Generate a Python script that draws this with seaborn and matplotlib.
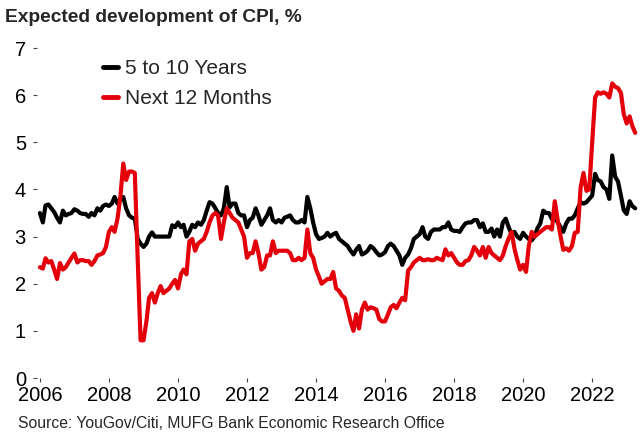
import pandas as pd
import numpy as np
import seaborn as sns
import matplotlib.pyplot as plt

# monthly survey values, Jan 2006 .. Apr 2023
start_month = '2006-01-01'
five_to_ten = [
    3.5, 3.3, 3.66, 3.68, 3.6, 3.52, 3.4, 3.3, 3.55, 3.45, 3.48, 3.5,        # 2006
    3.58, 3.55, 3.5, 3.48, 3.48, 3.42, 3.5, 3.45, 3.6, 3.55, 3.65, 3.68,     # 2007
    3.65, 3.7, 3.84, 3.7, 3.8, 3.84, 3.6, 3.45, 3.4, 3.38, 2.95, 2.85,       # 2008
    2.78, 2.85, 3.0, 3.09, 3.0, 3.0, 3.0, 3.0, 3.0, 3.0, 3.24, 3.2,          # 2009
    3.3, 3.2, 3.25, 3.0, 3.1, 3.25, 3.2, 3.3, 3.25, 3.35, 3.55, 3.73,        # 2010
    3.7, 3.6, 3.5, 3.45, 3.6, 4.05, 3.62, 3.7, 3.7, 3.5, 3.45, 3.45,         # 2011
    3.2, 3.35, 3.4, 3.6, 3.45, 3.25, 3.35, 3.45, 3.6, 3.35, 3.3, 3.35,       # 2012
    3.3, 3.4, 3.42, 3.45, 3.35, 3.3, 3.3, 3.35, 3.3, 3.84, 3.6, 3.3,         # 2013
    3.05, 2.95, 2.97, 3.0, 3.08, 3.0, 3.05, 3.08, 2.95, 2.9, 2.85, 2.8,      # 2014
    2.7, 2.62, 2.72, 2.8, 2.62, 2.65, 2.7, 2.8, 2.75, 2.67, 2.6, 2.62,       # 2015
    2.67, 2.8, 2.85, 2.8, 2.7, 2.6, 2.4, 2.55, 2.62, 2.75, 2.95, 3.0,        # 2016
    3.05, 3.2, 3.0, 2.95, 3.1, 3.15, 3.15, 3.15, 3.2, 3.2, 3.3, 3.15,        # 2017
    3.12, 3.12, 3.1, 3.2, 3.28, 3.3, 3.3, 3.35, 3.35, 3.2, 3.28, 3.1,        # 2018
    3.1, 3.17, 3.0, 3.15, 3.0, 3.3, 3.38, 3.2, 3.05, 3.1, 3.0, 2.95,         # 2019
    3.08, 3.0, 2.95, 2.92, 3.0, 3.18, 3.28, 3.55, 3.5, 3.5, 3.37, 3.4,       # 2020
    3.3, 3.2, 3.1, 3.28, 3.38, 3.38, 3.45, 3.6, 3.73, 3.7, 3.73, 3.8,        # 2021
    3.87, 4.33, 4.2, 4.17, 4.05, 4.0, 3.8, 4.72, 4.27, 4.17, 3.87, 3.56,     # 2022
    3.48, 3.75, 3.65, 3.6,                                                   # 2023
]
next_12m = [
    2.35, 2.32, 2.54, 2.45, 2.48, 2.3, 2.1, 2.44, 2.3, 2.35, 2.45, 2.55,     # 2006
    2.64, 2.45, 2.5, 2.5, 2.48, 2.48, 2.4, 2.48, 2.6, 2.62, 2.65, 2.78,      # 2007
    3.1, 3.2, 3.1, 3.38, 3.84, 4.55, 4.2, 4.38, 4.38, 4.35, 2.5, 0.8,        # 2008
    0.8, 1.2, 1.7, 1.8, 1.6, 1.8, 1.95, 1.8, 1.85, 1.9, 2.0, 2.08,           # 2009
    1.9, 2.2, 2.3, 2.2, 2.9, 2.95, 2.7, 2.85, 2.9, 2.95, 3.1, 3.3,           # 2010
    3.45, 3.5, 3.45, 2.95, 3.3, 3.6, 3.5, 3.4, 3.35, 3.3, 3.15, 3.0,         # 2011
    2.55, 2.65, 2.65, 2.9, 2.65, 2.3, 2.35, 2.6, 2.6, 2.9, 2.65, 2.7,        # 2012
    2.7, 2.7, 2.7, 2.65, 2.5, 2.5, 2.55, 2.5, 2.55, 3.15, 2.65, 2.55,        # 2013
    2.3, 2.15, 2.0, 2.05, 2.1, 2.1, 2.25, 1.9, 1.85, 1.75, 1.7, 1.45,        # 2014
    1.2, 1.0, 1.35, 1.05, 1.45, 1.6, 1.45, 1.5, 1.48, 1.45, 1.25, 1.2,       # 2015
    1.2, 1.35, 1.5, 1.55, 1.48, 1.6, 1.7, 1.65, 2.28, 2.35, 2.45, 2.5,       # 2016
    2.55, 2.5, 2.5, 2.52, 2.5, 2.5, 2.55, 2.52, 2.5, 2.73, 2.6, 2.65,        # 2017
    2.55, 2.45, 2.4, 2.4, 2.48, 2.5, 2.6, 2.78, 2.7, 2.6, 2.78, 2.55,        # 2018
    2.78, 2.65, 2.6, 2.55, 2.5, 2.6, 2.8, 2.96, 3.1, 2.75, 2.5, 2.3,         # 2019
    2.4, 2.25, 2.8, 3.1, 3.0, 3.05, 3.1, 3.15, 3.2, 3.2, 3.15, 3.75,         # 2020
    3.35, 3.0, 2.72, 2.75, 2.7, 2.8, 3.08, 3.1, 4.05, 4.35, 3.97, 4.0,       # 2021
    5.0, 5.95, 6.06, 6.03, 6.06, 6.03, 5.95, 6.25, 6.18, 6.15, 6.05, 5.6,    # 2022
    5.4, 5.55, 5.35, 5.2,                                                    # 2023
]
series_names = ['5 to 10 Years', 'Next 12 Months']
series_colors = ['#000000', '#e3000b']
tick_years = list(range(2006, 2023, 2))
y_ticks = list(range(0, 8))

months = pd.date_range(start_month, periods=len(five_to_ten), freq='MS')
df = pd.DataFrame({
    'date': list(months) * 2,
    'value': five_to_ten + next_12m,
    'series': [series_names[0]] * len(months) + [series_names[1]] * len(months),
})

sns.set_style('white')
plt.rcParams['font.family'] = ['Liberation Sans', 'DejaVu Sans']

W, H = 642, 432
fig = plt.figure(figsize=(W / 100, H / 100), dpi=100)
ax = fig.add_axes([37 / W, (H - 378) / H, (640 - 37) / W, (378 - 38.6) / H])

sns.lineplot(data=df, x='date', y='value', hue='series', hue_order=series_names,
             palette=series_colors, linewidth=3, ax=ax)

ax.set_xlim(pd.Timestamp('2005-12-01'), pd.Timestamp('2023-05-22'))
ax.set_ylim(0, 7.2)
ax.set_xticks([pd.Timestamp(f'{y}-01-01') for y in tick_years])
ax.set_xticklabels([str(y) for y in tick_years])
ax.set_yticks(y_ticks)
ax.set_yticklabels([str(v) for v in y_ticks])
ax.set_xlabel('')
ax.set_ylabel('')
ax.tick_params(axis='both', direction='out', length=3, width=0.8, color='#444444',
               labelsize=14.5, labelcolor='black', bottom=True, left=True)
ax.tick_params(axis='y', pad=5)
ax.tick_params(axis='x', pad=3)
sns.despine(ax=ax, left=True, bottom=True)

leg = ax.legend(loc='upper left', bbox_to_anchor=(103 / W, 1 - 59 / H),
                bbox_transform=fig.transFigure, frameon=False, fontsize=15,
                handlelength=0.72, handletextpad=0.35, labelspacing=0.55,
                borderpad=0, borderaxespad=0)
for line in leg.get_lines():
    line.set_linewidth(3.5)

fig.text(5 / W, 1 - 17 / H, 'Expected development of CPI, %', fontsize=13.8,
         fontweight='bold', ha='left', va='center')
fig.text(18 / W, 1 - 424 / H, 'Source: YouGov/Citi, MUFG Bank Economic Research Office',
         fontsize=11.3, ha='left', va='center')

fig.savefig('out.png', dpi=100)
